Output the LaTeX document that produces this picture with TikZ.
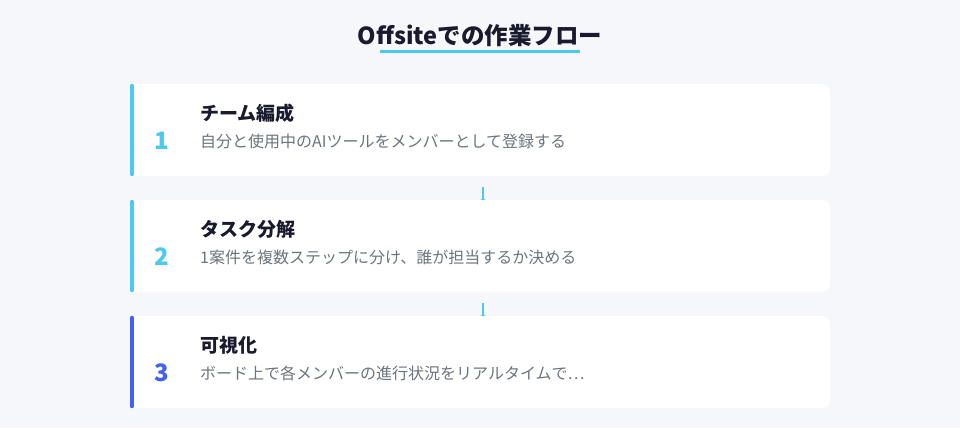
\documentclass[tikz,border=0pt]{standalone}
\usepackage{fontspec}
\setmainfont{Noto Sans CJK JP}
\usetikzlibrary{arrows.meta,backgrounds,positioning}
\definecolor{pagebg}{HTML}{F5F7FA}
\definecolor{accA}{HTML}{4CC9F0}
\definecolor{accB}{HTML}{4361EE}
\definecolor{ink}{HTML}{1A1A2E}
\definecolor{muted}{HTML}{6C757D}
\tikzset{
  card/.style={ fill=white, rounded corners=8pt, minimum width=700pt, minimum height=92pt, inner sep=0pt }
}
\tikzset{
  bar/.style={ line width=4pt, line cap=round }
}
\tikzset{
  stepnum/.style={ font=\fontsize{24}{28}\selectfont\bfseries, inner sep=0pt }
}
\tikzset{
  steptitle/.style={ anchor=west, text=ink, font=\fontsize{19}{22}\selectfont\bfseries, inner sep=0pt }
}
\tikzset{
  stepdesc/.style={ anchor=west, text=muted, font=\fontsize{16}{19}\selectfont, inner sep=0pt }
}
\tikzset{
  flow/.style={ accA, line width=2pt, -{Stealth[length=4pt,width=5pt]} }
}

\begin{document}
\begin{tikzpicture}[x=1pt, y=-1pt]
      \useasboundingbox (0,0) rectangle (960,428);

      \node[text=ink, font=\fontsize{23.5}{27}\selectfont\bfseries, inner sep=0pt] (title) at (480,36) {Offsiteでの作業フロー};
      \draw[accA, line width=3pt] (380,52) -- (580,52);

      \node[card] (card1) at (480,130) {};
      \draw[bar, accA] ([xshift=2pt, yshift=-2pt]card1.north west) -- ([xshift=2pt, yshift=2pt]card1.south west);
      \node[stepnum, text=accA] (n1) at (162,141) {1};
      \node[steptitle] (t1) at (200,113) {チーム編成};
      \node[stepdesc] (d1) at (200,141) {自分と使用中のAIツールをメンバーとして登録する};

      \node[card] (card2) at (480,246) {};
      \draw[bar, accA] ([xshift=2pt, yshift=-2pt]card2.north west) -- ([xshift=2pt, yshift=2pt]card2.south west);
      \node[stepnum, text=accA] (n2) at (162,257) {2};
      \node[steptitle] (t2) at (200,229) {タスク分解};
      \node[stepdesc] (d2) at (200,257) {1案件を複数ステップに分け、誰が担当するか決める};

      \node[card] (card3) at (480,362) {};
      \draw[bar, accB] ([xshift=2pt, yshift=-2pt]card3.north west) -- ([xshift=2pt, yshift=2pt]card3.south west);
      \node[stepnum, text=accB] (n3) at (162,373) {3};
      \node[steptitle] (t3) at (200,345) {可視化};
      \node[stepdesc] (d3) at (200,373) {ボード上で各メンバーの進行状況をリアルタイムで…};

      % connectors sit behind the cards, heads tucked under the next card
      \coordinate (c1) at ([xshift=3pt, yshift=-11pt]card1.south);
      \coordinate (c2) at ([xshift=3pt, yshift=-11pt]card2.south);
      \begin{scope}[on background layer]
        \fill[pagebg] (0,0) rectangle (960,428);
        \draw[flow] (c1) -- ([xshift=3pt, yshift=-3pt]card2.north);
        \draw[flow] (c2) -- ([xshift=3pt, yshift=-3pt]card3.north);
      \end{scope}
\end{tikzpicture}
\end{document}
